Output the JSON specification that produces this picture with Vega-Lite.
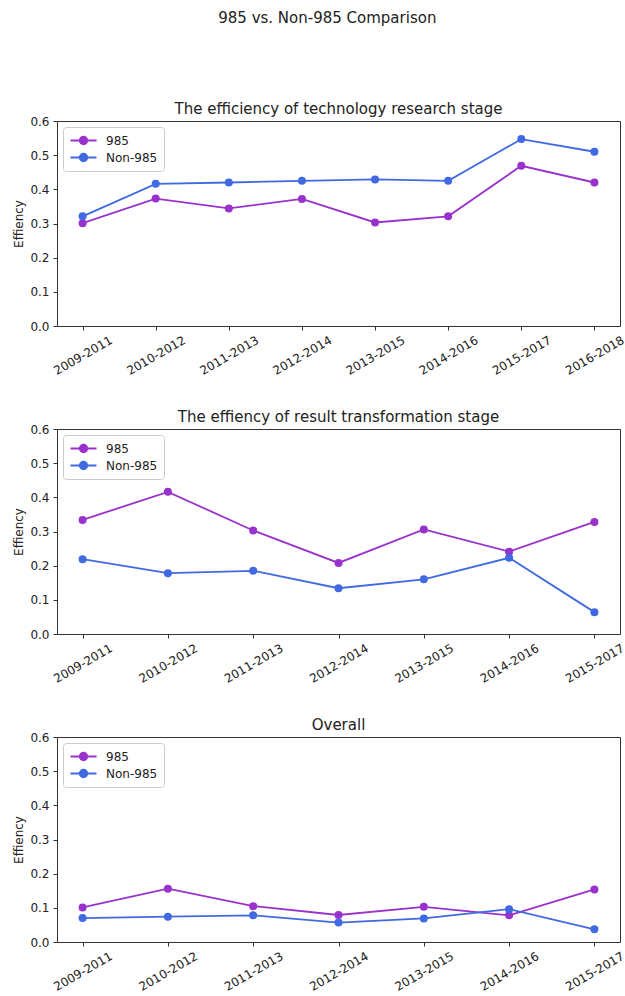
{
  "$schema": "https://vega.github.io/schema/vega-lite/v6.json",
  "padding": {"left": 12, "top": 10, "right": 0, "bottom": 0},
  "background": "white",
  "title": {"text": "985 vs. Non-985 Comparison", "fontSize": 15, "fontWeight": "normal", "anchor": "middle", "offset": 76, "dx": 8, "color": "#222"},
  "config": {
    "font": "DejaVu Sans",
    "view": {"stroke": "#333", "strokeWidth": 1},
    "axis": {"grid": false, "domain": false, "tickColor": "#333", "tickSize": 4, "labelFontSize": 12, "labelColor": "#222", "titleFontSize": 12, "titleFontWeight": "normal", "titleColor": "#222", "labelOverlap": false, "labelBound": false, "labelFlush": false},
    "title": {"fontSize": 15, "fontWeight": "normal", "color": "#222", "offset": -2},
    "legend": {
      "orient": "top-left", "offset": 6, "title": null,
      "strokeColor": "#cccccc", "cornerRadius": 3, "fillColor": "white", "padding": 6,
      "labelFontSize": 12, "labelColor": "#222", "labelOffset": 15, "rowPadding": 2,
      "symbolType": "M-2,0L2,0M-0.58,0A0.58,0.58 0 1,1 0.58,0A0.58,0.58 0 1,1 -0.58,0Z",
      "symbolSize": 169, "symbolStrokeWidth": 1.8, "symbolOffset": 7
    }
  },
  "data": {"values": [
    {"stage": "tech", "period": "2009-2011", "group": "985", "value": 0.301},
    {"stage": "tech", "period": "2010-2012", "group": "985", "value": 0.373},
    {"stage": "tech", "period": "2011-2013", "group": "985", "value": 0.344},
    {"stage": "tech", "period": "2012-2014", "group": "985", "value": 0.372},
    {"stage": "tech", "period": "2013-2015", "group": "985", "value": 0.303},
    {"stage": "tech", "period": "2014-2016", "group": "985", "value": 0.321},
    {"stage": "tech", "period": "2015-2017", "group": "985", "value": 0.469},
    {"stage": "tech", "period": "2016-2018", "group": "985", "value": 0.420},
    {"stage": "tech", "period": "2009-2011", "group": "Non-985", "value": 0.321},
    {"stage": "tech", "period": "2010-2012", "group": "Non-985", "value": 0.416},
    {"stage": "tech", "period": "2011-2013", "group": "Non-985", "value": 0.420},
    {"stage": "tech", "period": "2012-2014", "group": "Non-985", "value": 0.425},
    {"stage": "tech", "period": "2013-2015", "group": "Non-985", "value": 0.429},
    {"stage": "tech", "period": "2014-2016", "group": "Non-985", "value": 0.425},
    {"stage": "tech", "period": "2015-2017", "group": "Non-985", "value": 0.547},
    {"stage": "tech", "period": "2016-2018", "group": "Non-985", "value": 0.510},
    {"stage": "result", "period": "2009-2011", "group": "985", "value": 0.334},
    {"stage": "result", "period": "2010-2012", "group": "985", "value": 0.416},
    {"stage": "result", "period": "2011-2013", "group": "985", "value": 0.303},
    {"stage": "result", "period": "2012-2014", "group": "985", "value": 0.208},
    {"stage": "result", "period": "2013-2015", "group": "985", "value": 0.306},
    {"stage": "result", "period": "2014-2016", "group": "985", "value": 0.241},
    {"stage": "result", "period": "2015-2017", "group": "985", "value": 0.328},
    {"stage": "result", "period": "2009-2011", "group": "Non-985", "value": 0.219},
    {"stage": "result", "period": "2010-2012", "group": "Non-985", "value": 0.178},
    {"stage": "result", "period": "2011-2013", "group": "Non-985", "value": 0.185},
    {"stage": "result", "period": "2012-2014", "group": "Non-985", "value": 0.134},
    {"stage": "result", "period": "2013-2015", "group": "Non-985", "value": 0.160},
    {"stage": "result", "period": "2014-2016", "group": "Non-985", "value": 0.223},
    {"stage": "result", "period": "2015-2017", "group": "Non-985", "value": 0.064},
    {"stage": "overall", "period": "2009-2011", "group": "985", "value": 0.101},
    {"stage": "overall", "period": "2010-2012", "group": "985", "value": 0.156},
    {"stage": "overall", "period": "2011-2013", "group": "985", "value": 0.105},
    {"stage": "overall", "period": "2012-2014", "group": "985", "value": 0.079},
    {"stage": "overall", "period": "2013-2015", "group": "985", "value": 0.103},
    {"stage": "overall", "period": "2014-2016", "group": "985", "value": 0.078},
    {"stage": "overall", "period": "2015-2017", "group": "985", "value": 0.154},
    {"stage": "overall", "period": "2009-2011", "group": "Non-985", "value": 0.070},
    {"stage": "overall", "period": "2010-2012", "group": "Non-985", "value": 0.074},
    {"stage": "overall", "period": "2011-2013", "group": "Non-985", "value": 0.078},
    {"stage": "overall", "period": "2012-2014", "group": "Non-985", "value": 0.057},
    {"stage": "overall", "period": "2013-2015", "group": "Non-985", "value": 0.069},
    {"stage": "overall", "period": "2014-2016", "group": "Non-985", "value": 0.096},
    {"stage": "overall", "period": "2015-2017", "group": "Non-985", "value": 0.037}
  ]},
  "spacing": 103,
  "bounds": "flush",
  "resolve": {"scale": {"color": "shared", "x": "independent"}, "legend": {"color": "independent"}},
  "vconcat": [
    {
      "title": {"text": "The efficiency of technology research stage"},
      "width": 563, "height": 205,
      "transform": [{"filter": "datum.stage == 'tech'"}],
      "encoding": {
        "x": {"field": "period", "type": "ordinal", "scale": {"type": "point", "padding": 0.35}, "title": null, "axis": {"labelAngle": -30, "labelAlign": "center", "labelBaseline": "middle", "labelPadding": 25}},
        "y": {"field": "value", "type": "quantitative", "scale": {"domain": [0, 0.6]}, "title": "Effiency", "axis": {"values": [0, 0.1, 0.2, 0.3, 0.4, 0.5, 0.6], "format": ".1f", "labelPadding": 4, "titlePadding": 4}},
        "color": {"field": "group", "type": "nominal", "scale": {"domain": ["985", "Non-985"], "range": ["#9932cc", "#4169e1"]}, "legend": {"encode": {"symbols": {"update": {"fill": {"scale": "color", "field": "value"}, "stroke": {"scale": "color", "field": "value"}, "fillOpacity": {"value": 1}, "strokeOpacity": {"value": 1}}}}}}
      },
      "layer": [
        {"mark": {"type": "line", "strokeWidth": 1.8}},
        {"mark": {"type": "point", "filled": true, "size": 64, "opacity": 1}}
      ]
    },
    {
      "title": {"text": "The effiency of result transformation stage"},
      "width": 563, "height": 205,
      "transform": [{"filter": "datum.stage == 'result'"}],
      "encoding": {
        "x": {"field": "period", "type": "ordinal", "scale": {"type": "point", "padding": 0.3}, "title": null, "axis": {"labelAngle": -30, "labelAlign": "center", "labelBaseline": "middle", "labelPadding": 25}},
        "y": {"field": "value", "type": "quantitative", "scale": {"domain": [0, 0.6]}, "title": "Effiency", "axis": {"values": [0, 0.1, 0.2, 0.3, 0.4, 0.5, 0.6], "format": ".1f", "labelPadding": 4, "titlePadding": 4}},
        "color": {"field": "group", "type": "nominal", "scale": {"domain": ["985", "Non-985"], "range": ["#9932cc", "#4169e1"]}, "legend": {"encode": {"symbols": {"update": {"fill": {"scale": "color", "field": "value"}, "stroke": {"scale": "color", "field": "value"}, "fillOpacity": {"value": 1}, "strokeOpacity": {"value": 1}}}}}}
      },
      "layer": [
        {"mark": {"type": "line", "strokeWidth": 1.8}},
        {"mark": {"type": "point", "filled": true, "size": 64, "opacity": 1}}
      ]
    },
    {
      "title": {"text": "Overall"},
      "width": 563, "height": 205,
      "transform": [{"filter": "datum.stage == 'overall'"}],
      "encoding": {
        "x": {"field": "period", "type": "ordinal", "scale": {"type": "point", "padding": 0.3}, "title": null, "axis": {"labelAngle": -30, "labelAlign": "center", "labelBaseline": "middle", "labelPadding": 25}},
        "y": {"field": "value", "type": "quantitative", "scale": {"domain": [0, 0.6]}, "title": "Effiency", "axis": {"values": [0, 0.1, 0.2, 0.3, 0.4, 0.5, 0.6], "format": ".1f", "labelPadding": 4, "titlePadding": 4}},
        "color": {"field": "group", "type": "nominal", "scale": {"domain": ["985", "Non-985"], "range": ["#9932cc", "#4169e1"]}, "legend": {"encode": {"symbols": {"update": {"fill": {"scale": "color", "field": "value"}, "stroke": {"scale": "color", "field": "value"}, "fillOpacity": {"value": 1}, "strokeOpacity": {"value": 1}}}}}}
      },
      "layer": [
        {"mark": {"type": "line", "strokeWidth": 1.8}},
        {"mark": {"type": "point", "filled": true, "size": 64, "opacity": 1}}
      ]
    }
  ]
}
